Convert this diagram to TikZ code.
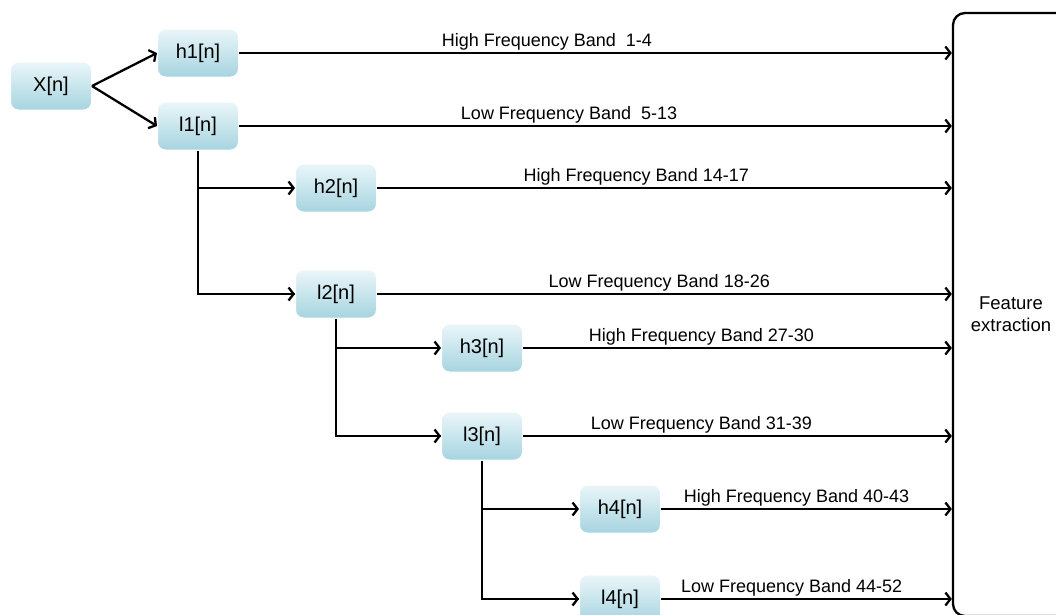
\documentclass[tikz,border=0pt]{standalone}
\usepackage{fontspec}
\setmainfont{Liberation Sans}
\usetikzlibrary{arrows.meta}
\begin{document}
\begin{tikzpicture}[x=1pt,y=-1pt,
  filt/.style={rectangle, rounded corners=8pt, minimum width=81pt, minimum height=48pt,
    top color={rgb,255:red,234;green,246;blue,249}, bottom color={rgb,255:red,166;green,212;blue,224},
    draw=white, line width=1pt, inner sep=0pt, font=\fontsize{20}{24}\selectfont},
  band/.style={line width=2.3pt, -{Straight Barb[length=5pt,width=13pt,line width=2.3pt]}},
  wire/.style={line width=2.3pt},
  blabel/.style={above, inner sep=2pt, font=\fontsize{18}{21}\selectfont}]
\useasboundingbox (0,0) rectangle (1056,614);

% filter bank nodes
\node[filt] (x)  at (51,86)   {X[n]};
\node[filt] (h1) at (198,53)  {h1[n]};
\node[filt] (l1) at (198,126) {l1[n]};
\node[filt] (h2) at (336,188) {h2[n]};
\node[filt] (l2) at (336,294) {l2[n]};
\node[filt] (h3) at (482,348) {h3[n]};
\node[filt] (l3) at (482,436) {l3[n]};
\node[filt] (h4) at (620,509) {h4[n]};
\node[filt] (l4) at (620,599) {l4[n]};

% feature extraction block
\node[draw, line width=2.3pt, rounded corners=12pt, minimum width=116pt, minimum height=603pt,
  align=center, font=\fontsize{18.5}{22}\selectfont] (fe) at (1011,314.5) {Feature\\extraction};

% first split
\draw[band] (x.east) -- (h1.west);
\draw[band] (x.east) -- (l1.west);

% cascade
\draw[wire] (l1.south) |- (l2.west);
\draw[band] (l1.south |- h2.west) -- (h2.west);
\draw[band] ([xshift=-1.15pt]l2.west) -- (l2.west);
\draw[wire] (l2.south) |- (l3.west);
\draw[band] (l2.south |- h3.west) -- (h3.west);
\draw[band] ([xshift=-1.15pt]l3.west) -- (l3.west);
\draw[wire] (l3.south) |- (l4.west);
\draw[band] (l3.south |- h4.west) -- (h4.west);
\draw[band] ([xshift=-1.15pt]l4.west) -- (l4.west);

% bands into the feature block
\draw[band] (h1.east) -- node[blabel, pos=0.432] {High Frequency Band\ \ 1-4} (h1.east -| fe.west);
\draw[band] (l1.east) -- node[blabel, pos=0.463] {Low Frequency Band\ \ 5-13} (l1.east -| fe.west);
\draw[band] (h2.east) -- node[blabel, pos=0.451] {High Frequency Band 14-17} (h2.east -| fe.west);
\draw[band] (l2.east) -- node[blabel, pos=0.491] {Low Frequency Band 18-26} (l2.east -| fe.west);
\draw[band] (h3.east) -- node[blabel, pos=0.416] {High Frequency Band 27-30} (h3.east -| fe.west);
\draw[band] (l3.east) -- node[blabel, pos=0.416] {Low Frequency Band 31-39} (l3.east -| fe.west);
\draw[band] (h4.east) -- node[blabel, pos=0.466] {High Frequency Band 40-43} (h4.east -| fe.west);
\draw[band] (l4.east) -- node[blabel, pos=0.449] {Low Frequency Band 44-52} (l4.east -| fe.west);
\end{tikzpicture}
\end{document}
